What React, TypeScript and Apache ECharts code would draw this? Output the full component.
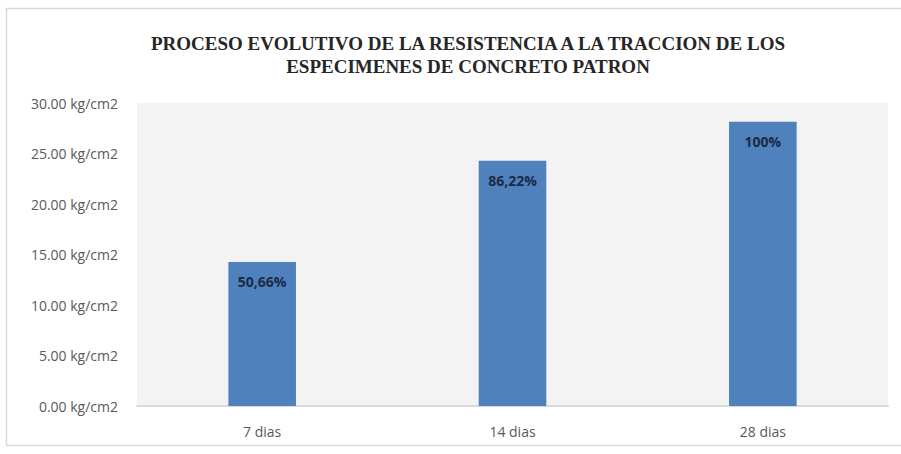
import React, { useEffect, useRef } from "react";
import * as echarts from "echarts";

const categories = ["7 dias", "14 dias", "28 dias"];
const resistance = [14.26, 24.27, 28.15];
const percentLabels = ["50,66%", "86,22%", "100%"];
const yTicks = { min: 0, max: 30, interval: 5 };
const titleText =
  "PROCESO EVOLUTIVO DE LA RESISTENCIA A LA TRACCION DE LOS\nESPECIMENES DE CONCRETO PATRON";

export default function App() {
  const ref = useRef<HTMLDivElement>(null);
  useEffect(() => {
    document.body.style.margin = "0";
    if (!ref.current) return;
    const chart = echarts.init(ref.current, null, { renderer: "svg" });
    chart.setOption({
      animation: false,
      backgroundColor: "#ffffff",
      title: {
        text: titleText,
        left: 463,
        textAlign: "center",
        top: 27,
        textStyle: {
          fontFamily: "Liberation Serif",
          fontWeight: "bold",
          fontSize: 19,
          lineHeight: 23,
          color: "#262626",
        },
      },
      graphic: [
        {
          type: "rect",
          shape: { x: 6.5, y: 8.5, width: 920, height: 437 },
          style: { fill: "none", stroke: "#d9d9d9", lineWidth: 1.5 },
          silent: true,
          z: -1,
        },
      ],
      grid: {
        left: 137,
        right: 13,
        top: 103,
        bottom: 48,
        show: true,
        backgroundColor: "#f3f3f3",
        borderWidth: 0,
      },
      xAxis: {
        type: "category",
        data: categories,
        axisTick: { show: false },
        axisLine: { lineStyle: { color: "#d9d9d9", width: 2 } },
        axisLabel: {
          color: "#595959",
          fontFamily: "Open Sans",
          fontSize: 14,
          margin: 18,
        },
      },
      yAxis: {
        type: "value",
        min: yTicks.min,
        max: yTicks.max,
        interval: yTicks.interval,
        splitLine: { show: false },
        axisLine: { show: false },
        axisTick: { show: false },
        axisLabel: {
          color: "#595959",
          fontFamily: "Open Sans",
          fontSize: 14,
          margin: 19,
          formatter: (v: number) => v.toFixed(2) + " kg/cm2",
        },
      },
      series: [
        {
          type: "bar",
          data: resistance,
          barWidth: "27%",
          itemStyle: { color: "#4f81bd" },
          label: {
            show: true,
            position: "insideTop",
            distance: 13,
            color: "#1b2a47",
            fontWeight: "bold",
            fontFamily: "Open Sans",
            fontSize: 14,
            formatter: (p: any) => percentLabels[p.dataIndex],
          },
        },
      ],
    });
    return () => chart.dispose();
  }, []);
  return <div ref={ref} style={{ width: 901, height: 454 }} />;
}
